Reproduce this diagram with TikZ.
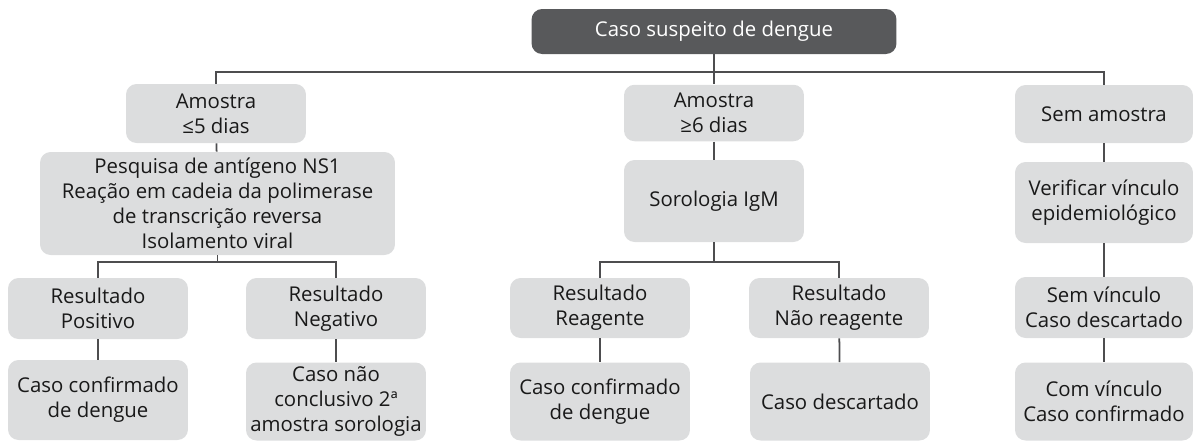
\documentclass[tikz,border=0pt]{standalone}
\usepackage{fontspec}
\setmainfont{Open Sans}
\definecolor{boxGray}{HTML}{DCDDDE}
\definecolor{darkGray}{HTML}{58595B}
\definecolor{lineGray}{HTML}{4D4D4F}
\usetikzlibrary{positioning}
\begin{document}
\begin{tikzpicture}[x=0.02cm, y=-0.02cm,
    box/.style={fill=boxGray, rounded corners=6pt, text=black!90,
      font=\fontsize{11.6}{14.2}\selectfont, inner sep=0pt,
      minimum width=3.6cm, align=center},
    topbox/.style={box, fill=darkGray, text=white, minimum width=7.3cm,
      minimum height=0.9cm},
    link/.style={lineGray, line width=1pt}
  ]
    \useasboundingbox (0,0) rectangle (1193,441);
    % top
    \node[topbox] (suspeito) at (714,31.5) {Caso suspeito de dengue};
    % first level
    \node[box, minimum height=1.18cm] (ate5) at (216,113.5) {Amostra\\ ≤5 dias};
    \node[box, minimum height=1.13cm] (apos6) at (714,113) {Amostra\\ ≥6 dias};
    \node[box, minimum height=1.16cm, minimum width=3.56cm] (semAm) at (1104,114) {Sem amostra};
    % second level
    \node[box, minimum height=2.06cm, minimum width=7.1cm] (exames) at (217.5,203.5)
      {Pesquisa de antígeno NS1\\ Reação em cadeia da polimerase\\ de transcrição reversa\\ Isolamento viral};
    \node[box, minimum height=1.64cm] (sorologia) at (714,201) {Sorologia IgM};
    \node[box, minimum height=1.62cm, minimum width=3.56cm] (vinculo) at (1104,202.5)
      {Verificar vínculo\\ epidemiológico};
    % results
    \node[box, minimum height=1.22cm] (positivo) at (98,308.5) {Resultado\\ Positivo};
    \node[box, minimum height=1.22cm] (negativo) at (336,308.5) {Resultado\\ Negativo};
    \node[box, minimum height=1.2cm] (reagente) at (600,308) {Resultado\\ Reagente};
    \node[box, minimum height=1.2cm] (naoReag) at (839,308) {Resultado\\ Não reagente};
    \node[box, minimum height=1.22cm, minimum width=3.56cm] (semVinc) at (1104,307.5)
      {Sem vínculo\\ Caso descartado};
    % outcomes
    \node[box, minimum height=1.6cm] (confirmA) at (98,400) {Caso confirmado\\ de dengue};
    \node[box, minimum height=1.56cm] (inconcl) at (336,401.5)
      {Caso não\\ conclusivo 2ª\\ amostra sorologia};
    \node[box, minimum height=1.56cm] (confirmB) at (600,401.5) {Caso confirmado\\ de dengue};
    \node[box, minimum height=1.56cm] (descart) at (840,401.5) {Caso descartado};
    \node[box, minimum height=1.56cm, minimum width=3.56cm] (comVinc) at (1104,401.5)
      {Com vínculo\\ Caso confirmado};
    % connectors
    \draw[link] (suspeito) -- (apos6);
    \draw[link] (ate5.north) -- ++(0,-12) -| (semAm.north);
    \draw[link] (ate5) -- (exames);
    \draw[link] (apos6) -- (sorologia);
    \draw[link] (semAm) -- (vinculo);
    \draw[link] (vinculo) -- (semVinc);
    \draw[link] (semVinc) -- (comVinc);
    \draw[link] (exames.south) -- ++(0,7);
    \draw[link] (positivo.north) -- ++(0,-16) -| (negativo.north);
    \draw[link] (sorologia.south) -- ++(0,20);
    \draw[link] (reagente.north) -- ++(0,-16) -| (naoReag.north);
    \draw[link] (positivo) -- (confirmA);
    \draw[link] (negativo) -- (inconcl);
    \draw[link] (reagente) -- (confirmB);
    \draw[link] (naoReag) -- (descart);
\end{tikzpicture}
\end{document}
